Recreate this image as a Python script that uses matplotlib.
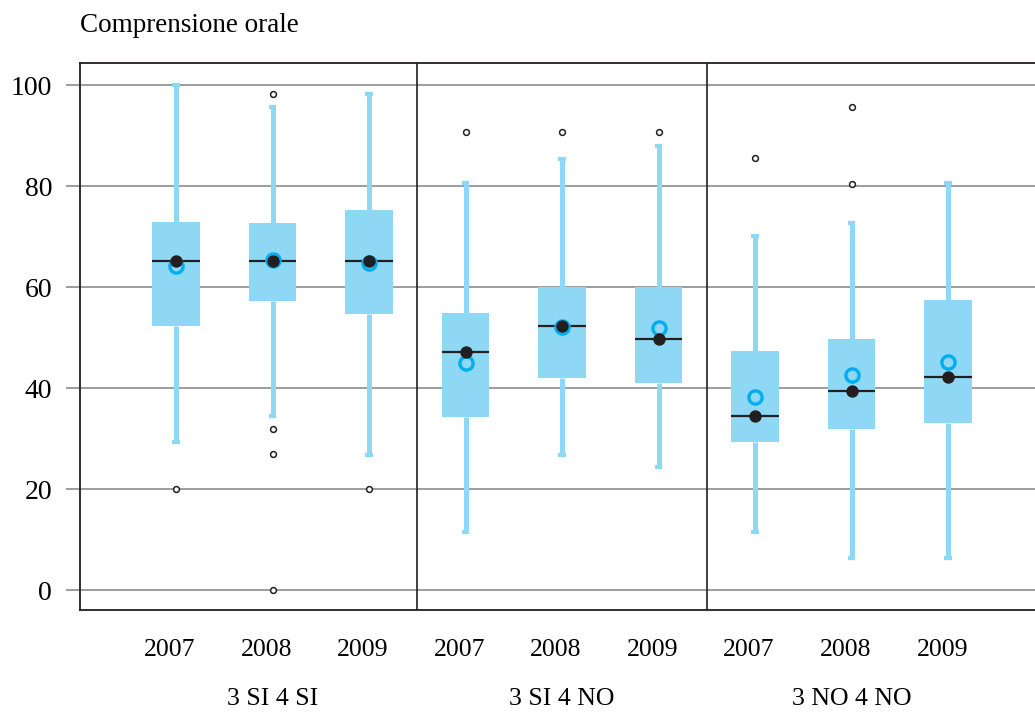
import matplotlib
matplotlib.use("Agg")
import matplotlib.pyplot as plt
from matplotlib.transforms import blended_transform_factory, ScaledTranslation

plt.rcParams['font.family'] = ['Liberation Serif', 'DejaVu Serif']

title = "Comprensione orale"
groups = ["3 SI 4 SI", "3 SI 4 NO", "3 NO 4 NO"]
years = ["2007", "2008", "2009"]

# per box, order: group1 2007..2009, group2 ..., group3 ...
whislo = [29.4, 34.5, 26.8, 11.5, 26.7, 24.3, 11.5, 6.3, 6.3]
q1     = [52.3, 57.3, 54.7, 34.3, 42.0, 40.9, 29.4, 31.8, 33.1]
median = [65.1, 65.1, 65.1, 47.2, 52.3, 49.8, 34.5, 39.5, 42.2]
q3     = [72.9, 72.7, 75.2, 54.9, 60.0, 60.0, 47.3, 49.7, 57.4]
whishi = [100.0, 95.7, 98.2, 80.5, 85.4, 88.0, 70.2, 72.7, 80.5]
means  = [64.2, 65.3, 64.7, 45.0, 52.1, 51.9, 38.3, 42.6, 45.1]
fliers = [[20.0], [98.3, 31.9, 26.9, 0.0], [20.0],
          [90.6], [90.6], [90.6],
          [85.5], [95.7, 80.4], []]

box_fill = "#8ED8F6"
mean_col = "#00AEEF"
dark = "#231F20"
grid_col = "#8C8C8C"

fig = plt.figure(figsize=(10.35, 7.15), dpi=100)
ax = fig.add_axes([80/1035, 105/715, 1 - 80/1035, 547/715])

positions = list(range(len(median)))
stats = []
for i in positions:
    stats.append(dict(med=median[i], q1=q1[i], q3=q3[i], whislo=whislo[i],
                      whishi=whishi[i], mean=means[i], fliers=fliers[i]))

ax.bxp(stats, positions=positions, widths=0.49, patch_artist=True,
       showmeans=True, showfliers=True, capwidths=0.08,
       boxprops=dict(facecolor=box_fill, edgecolor="none", linewidth=0),
       whiskerprops=dict(color=box_fill, linewidth=3.6, solid_capstyle="butt"),
       capprops=dict(color=box_fill, linewidth=3.0, solid_capstyle="butt"),
       medianprops=dict(color=dark, linewidth=1.6),
       meanprops=dict(marker="o", markerfacecolor="none", markeredgecolor=mean_col,
                      markersize=9.5, markeredgewidth=2.4),
       flierprops=dict(marker="o", markerfacecolor="white", markeredgecolor=dark,
                       markersize=4.2, markeredgewidth=1.1),
       zorder=3)

ax.scatter(positions, median, s=80, color=dark, zorder=5, linewidths=0)

ax.set_xlim(-0.995, 8.9)
ax.set_ylim(-3.96, 104.36)

ax.set_yticks([0, 20, 40, 60, 80, 100])
ax.set_yticklabels(["0", "20", "40", "60", "80", "100"], fontsize=20)
ax.yaxis.grid(True, color=grid_col, linewidth=1.2, zorder=0)
ax.set_axisbelow(True)
ax.tick_params(axis="y", length=10, width=1.2, color=grid_col, pad=10)

ax.set_xticks(positions)
ax.set_xticklabels(years * 3, fontsize=18.5)
ax.tick_params(axis="x", length=0, pad=21)
shift = ScaledTranslation(-6/100, 0, fig.dpi_scale_trans)
for lab in ax.get_xticklabels():
    lab.set_transform(lab.get_transform() + shift)

for sp in ["left", "top", "bottom"]:
    ax.spines[sp].set_color(dark)
    ax.spines[sp].set_linewidth(1.3)
ax.spines["right"].set_visible(False)

for xs in [2.5, 5.5]:
    ax.axvline(xs, color=dark, linewidth=1.2, zorder=2)

trans = blended_transform_factory(ax.transData, fig.transFigure)
for gi, g in enumerate(groups):
    ax.text(gi * 3 + 1, 1 - 699/715, g, transform=trans, ha="center", va="center",
            fontsize=18.5)

fig.text(80/1035, 1 - 25/715, title, ha="left", va="center", fontsize=19.5)

fig.savefig("out.png", dpi=100)
